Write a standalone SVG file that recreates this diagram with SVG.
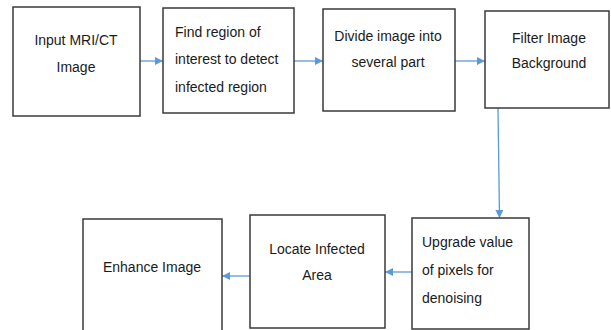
<svg xmlns="http://www.w3.org/2000/svg" width="611" height="330" viewBox="0 0 611 330">
<style>
.box{fill:#fff;stroke:#3a3a3a;stroke-width:1.5}
.t{font-family:"Liberation Sans",Arial,sans-serif;font-size:14px;fill:#1a1a1a}
.c{text-anchor:middle}
.edge{stroke:#5b9bd5;stroke-width:1.3;fill:none;marker-end:url(#ah)}
</style>
<defs>
<marker id="ah" viewBox="0 0 10 10" refX="10" refY="5" markerWidth="8" markerHeight="8" markerUnits="userSpaceOnUse" orient="auto">
<path d="M0,0 L10,5 L0,10 z" fill="#5b9bd5"/>
</marker>
</defs>
<rect width="611" height="330" fill="#fff"/>
<g id="connectors">
<line class="edge" x1="140" y1="61" x2="163" y2="61"/>
<line class="edge" x1="294" y1="61" x2="323" y2="61"/>
<line class="edge" x1="455" y1="61" x2="485" y2="61"/>
<line class="edge" x1="498" y1="108" x2="499.5" y2="218"/>
<line class="edge" x1="412" y1="272" x2="385" y2="272"/>
<line class="edge" x1="250" y1="276" x2="222" y2="276"/>
</g>
<g id="n1">
<rect class="box" x="13" y="7" width="127" height="109"/>
<text class="t c" x="76" y="45">Input MRI/CT</text>
<text class="t c" x="76" y="72">Image</text>
</g>
<g id="n2">
<rect class="box" x="163" y="8" width="131" height="105"/>
<text class="t" x="175" y="37">Find region of</text>
<text class="t" x="175" y="64">interest to detect</text>
<text class="t" x="175" y="92">infected region</text>
</g>
<g id="n3">
<rect class="box" x="323" y="9" width="132" height="102"/>
<text class="t c" x="388" y="41">Divide image into</text>
<text class="t c" x="388" y="67">several part</text>
</g>
<g id="n4">
<rect class="box" x="485" y="11" width="124" height="97"/>
<text class="t c" x="549" y="43">Filter Image</text>
<text class="t c" x="549" y="68">Background</text>
</g>
<g id="n5">
<rect class="box" x="412" y="218" width="117" height="111"/>
<text class="t" x="422" y="247">Upgrade value</text>
<text class="t" x="422" y="275">of pixels for</text>
<text class="t" x="422" y="303">denoising</text>
</g>
<g id="n6">
<rect class="box" x="250" y="215" width="135" height="113"/>
<text class="t c" x="317" y="254">Locate Infected</text>
<text class="t c" x="317" y="280">Area</text>
</g>
<g id="n7">
<rect class="box" x="83" y="219" width="139" height="115"/>
<text class="t c" x="152" y="272">Enhance Image</text>
</g>
</svg>
